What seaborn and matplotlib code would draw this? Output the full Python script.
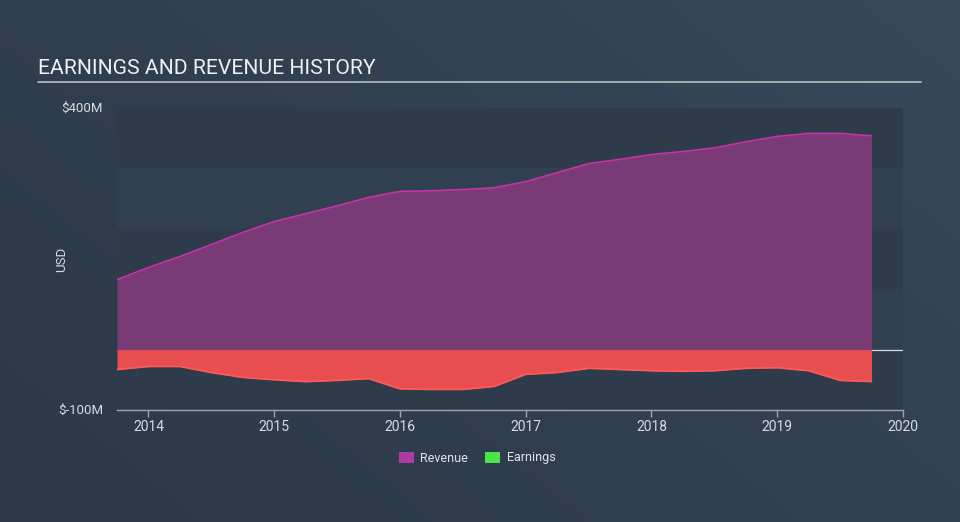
"""Earnings and revenue history area chart."""
import numpy as np
import pandas as pd
import matplotlib
matplotlib.use("Agg")
import matplotlib.pyplot as plt
from matplotlib.patches import Patch
import seaborn as sns

# quarterly dates (decimal years) and values in $M
years = [2013.75, 2014.0, 2014.25, 2014.5, 2014.75, 2015.0, 2015.25, 2015.5, 2015.75,
         2016.0, 2016.25, 2016.5, 2016.75, 2017.0, 2017.25, 2017.5, 2017.75,
         2018.0, 2018.25, 2018.5, 2018.75, 2019.0, 2019.25, 2019.5, 2019.75]
revenue = [116, 136, 154, 174, 194, 212, 225, 238, 252,
           262, 263, 265, 268, 278, 293, 308, 315,
           323, 328, 334, 344, 353, 358, 358, 354]
earnings = [-33, -28, -28, -38, -46, -50, -53, -51, -48,
            -65, -66, -66, -61, -41, -38, -31, -33,
            -35, -36, -35, -31, -30, -35, -51, -53]
year_ticks = [2014, 2015, 2016, 2017, 2018, 2019, 2020]
y_ticks = [-100, 400]
y_tick_labels = ["$-100M", "$400M"]

df = pd.DataFrame({"year": years, "Revenue": revenue, "Earnings": earnings})

sns.set_style("dark")
plt.rcParams['font.family'] = ['Roboto', 'DejaVu Sans']

fig = plt.figure(figsize=(9.6, 5.22), dpi=100)

# background gradient
bg = fig.add_axes([0, 0, 1, 1], zorder=-10)
grad = np.linspace(0, 1, 256)
gx, gy = np.meshgrid(grad, grad)
c0 = np.array([0x2b, 0x38, 0x47]) / 255
c1 = np.array([0x36, 0x48, 0x5a]) / 255
t = (gx * 0.6 + (1 - gy) * 0.4)[..., None]
bg.imshow(c0 + (c1 - c0) * t, aspect="auto", extent=[0, 1, 0, 1], origin="upper")
bg.axis("off")

ax = fig.add_axes([117 / 960, 112 / 522, 786 / 960, 302 / 522])
ax.set_facecolor("none")
ax.set_xlim(2013.75, 2020.0)
ax.set_ylim(-100, 400)

# alternating bands
dark_band = "#2d3b4a"
light_band = "#314050"
for i, lo in enumerate(range(-100, 400, 100)):
    ax.axhspan(lo, lo + 100, color=dark_band if i % 2 == 0 else light_band, lw=0, zorder=0)

rev_fill = "#7a3a76"
rev_line = "#c433a9"
earn_fill = "#e84d50"
earn_line = "#ff5b5b"

ax.fill_between(df["year"], 0, df["Revenue"], color=rev_fill, lw=0, zorder=2)
sns.lineplot(data=df, x="year", y="Revenue", color=rev_line, lw=1.2, ax=ax, zorder=3)
ax.fill_between(df["year"], 0, df["Earnings"], color=earn_fill, lw=0, zorder=2)
sns.lineplot(data=df, x="year", y="Earnings", color=earn_line, lw=1.2, ax=ax, zorder=3)
ax.plot([years[-1], 2020.0], [0, 0], color="#d8dde2", lw=0.9, zorder=3)

ax.set_xticks(year_ticks)
ax.set_xticklabels([str(y) for y in year_ticks])
ax.set_yticks(y_ticks)
ax.set_yticklabels(y_tick_labels)
ax.tick_params(axis="x", colors="#9aa6b2", labelcolor="#d6dbe0", labelsize=10,
               length=5, width=1, direction="out", pad=2, bottom=True)
ax.tick_params(axis="y", length=0, labelcolor="#d6dbe0", labelsize=9.5, pad=10)
for lab in ax.get_yticklabels():
    lab.set_verticalalignment("center")
ax.set_xlabel("")
ax.set_ylabel("USD", color="#d6dbe0", fontsize=9.5)
ax.yaxis.set_label_coords(-0.062, 0.5)
ax.grid(False)
for side in ["top", "right", "left"]:
    ax.spines[side].set_visible(False)
ax.spines["bottom"].set_visible(True)
ax.spines["bottom"].set_color("#9aa6b2")
ax.spines["bottom"].set_linewidth(1)
ax.spines["bottom"].set_zorder(4)

# title and underline
fig.text(38 / 960, 1 - 69 / 522, "EARNINGS AND REVENUE HISTORY", color="#eef0f2",
         fontsize=15.2, va="center", ha="left")
fig.add_artist(plt.Line2D([38 / 960, 921 / 960], [1 - 82 / 522, 1 - 82 / 522],
                          color="#b8bec4", lw=1.2))

# legend
handles = [Patch(facecolor="#b03aa4", edgecolor="none", label="Revenue"),
           Patch(facecolor="#4be34b", edgecolor="none", label="Earnings")]
fig.legend(handles=handles, loc="center", bbox_to_anchor=(477 / 960, 1 - 458 / 522),
           ncol=2, frameon=False, fontsize=9, labelcolor="#e0e4e8",
           handlelength=1.2, handleheight=1.0, handletextpad=0.5, columnspacing=1.4)

fig.savefig("out.png", dpi=100)
